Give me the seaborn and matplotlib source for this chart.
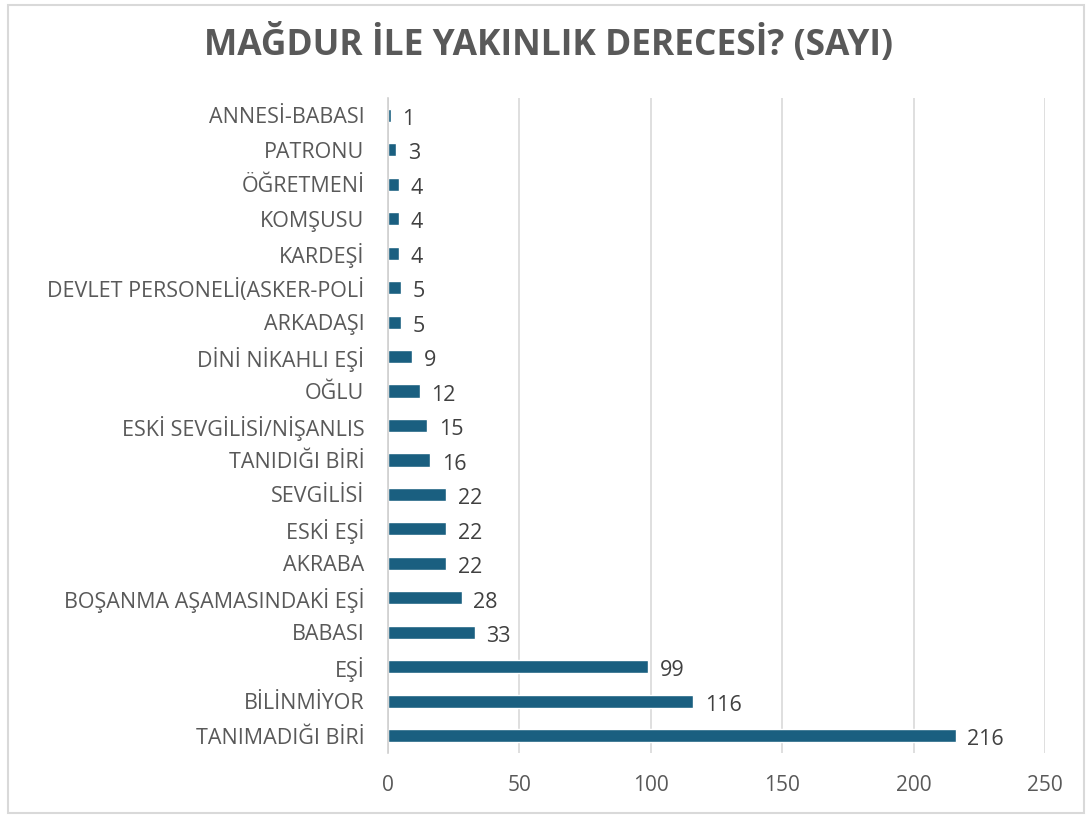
import matplotlib
matplotlib.use("Agg")
import matplotlib.pyplot as plt
import seaborn as sns
import pandas as pd
from matplotlib.patches import Rectangle

categories = ["ANNESİ-BABASI", "PATRONU", "ÖĞRETMENİ", "KOMŞUSU", "KARDEŞİ",
              "DEVLET PERSONELİ(ASKER-POLİ", "ARKADAŞI", "DİNİ NİKAHLI EŞİ", "OĞLU",
              "ESKİ SEVGİLİSİ/NİŞANLIS", "TANIDIĞI BİRİ", "SEVGİLİSİ", "ESKİ EŞİ",
              "AKRABA", "BOŞANMA AŞAMASINDAKİ EŞİ", "BABASI", "EŞİ", "BİLİNMİYOR",
              "TANIMADIĞI BİRİ"]
values = [1, 3, 4, 4, 4, 5, 5, 9, 12, 15, 16, 22, 22, 22, 28, 33, 99, 116, 216]
xticks = [0, 50, 100, 150, 200, 250]
title = "MAĞDUR İLE YAKINLIK DERECESİ? (SAYI)"

df = pd.DataFrame({"cat": categories, "val": values})

sns.set_theme(style="white")
plt.rcParams["font.family"] = ["Open Sans", "DejaVu Sans"]

fig = plt.figure(figsize=(10.91, 8.18), dpi=100)
ax = fig.add_axes([388/1091, 1-753/818, (1045-388)/1091, (753-98)/818])

bar_color = "#1a5f80"
sns.barplot(data=df, y="cat", x="val", orient="h", color=bar_color, width=0.38,
            saturation=1, ax=ax, order=categories)

ax.set_xlim(0, 250)
ax.set_xticks(xticks)
ax.set_ylim(len(categories) - 0.5, -0.5)
ax.set_xlabel("")
ax.set_ylabel("")
ax.grid(axis="x", color="#d9d9d9", linewidth=1.2)
ax.set_axisbelow(True)
for s in ["top", "right", "bottom"]:
    ax.spines[s].set_visible(False)
ax.spines["left"].set_color("#d0d0d0")
ax.spines["left"].set_linewidth(1.2)
ax.tick_params(axis="y", length=0, pad=17, labelsize=15.5, labelcolor="#595959")
ax.tick_params(axis="x", length=0, pad=16, labelsize=15, labelcolor="#595959")

for i, v in enumerate(values):
    ax.text(v + 4.5, i + 0.12, str(v), va="center", ha="left", fontsize=15.5, color="#404040")

fig.text(0.503, 1 - 44/818, title, ha="center", va="center", fontsize=25.5,
         fontweight="bold", color="#595959")

fig.patches.append(Rectangle((8/1091, 1-813/818), (1084-8)/1091, (813-5)/818,
                             transform=fig.transFigure, fill=False,
                             edgecolor="#d9d9d9", linewidth=1.5))

fig.savefig("out.png", dpi=100, facecolor="white")
